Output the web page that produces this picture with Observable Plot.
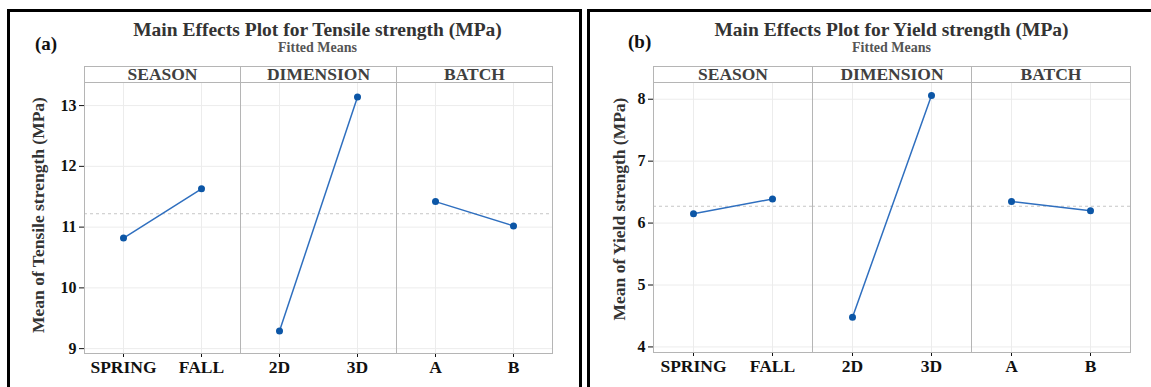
<!DOCTYPE html>
<html>
<head>
<meta charset="utf-8">
<script src="https://cdn.jsdelivr.net/npm/d3@7"></script>
<script src="https://cdn.jsdelivr.net/npm/@observablehq/plot@0.6"></script>
<style>
  body { margin:0; background:#fff; width:1151px; height:387px; overflow:hidden; position:relative;
         font-family:"Liberation Serif","Times New Roman",serif; }
  .box { position:absolute; border:3px solid #000; box-sizing:border-box; top:9px; height:420px; }
  .abs { position:absolute; white-space:nowrap; font-weight:bold; line-height:1; }
  .title { font-size:19.5px; color:#333; transform:translateX(-50%); }
  .sub { font-size:14px; color:#555; transform:translateX(-50%); }
  .tag { font-size:19px; color:#111; }
  .ylab { font-size:17.5px; color:#333; text-align:center; line-height:18px; transform:rotate(-90deg); }
  .chart { position:absolute; top:0; }
  .chart g[aria-label$="-axis tick"] { stroke:#999; }
  .chart g[aria-label="y-axis tick label"] { fill:#111; }
</style>
</head>
<body>
<div class="box" style="left:7px;width:575px;"></div>
<div class="box" style="left:587px;width:600px;"></div>

<div class="abs tag" style="left:35px;top:34px;">(a)</div>
<div class="abs title" style="left:317.5px;top:20px;">Main Effects Plot for Tensile strength (MPa)</div>
<div class="abs sub" style="left:317.5px;top:41px;">Fitted Means</div>
<div class="abs ylab" style="left:-100px;top:206px;width:276px;">Mean of Tensile strength (MPa)</div>

<div class="abs tag" style="left:628px;top:32px;">(b)</div>
<div class="abs title" style="left:891.5px;top:20px;">Main Effects Plot for Yield strength (MPa)</div>
<div class="abs sub" style="left:891.5px;top:41px;">Fitted Means</div>
<div class="abs ylab" style="left:481px;top:200px;width:276px;">Mean of Yield strength (MPa)</div>

<div id="left" class="chart" style="left:0px;width:576px;"></div>
<div id="right" class="chart" style="left:590px;width:561px;"></div>

<script>
// ---- data ----
const factors = ["SEASON", "DIMENSION", "BATCH"];
const levelNames = ["SPRING", "FALL", "2D", "3D", "A", "B"];
const levelFactor = ["SEASON", "SEASON", "DIMENSION", "DIMENSION", "BATCH", "BATCH"];
const levelIndex = [0, 1, 0, 1, 0, 1];
const tensileMeans = [10.82, 11.63, 9.29, 13.14, 11.42, 11.02];
const yieldMeans = [6.15, 6.39, 4.48, 8.06, 6.35, 6.20];
const tensileTicks = [9, 10, 11, 12, 13];
const yieldTicks = [4, 5, 6, 7, 8];
const tensileDomain = [8.92, 13.38];
const yieldDomain = [3.91, 8.27];

function draw(target, means, ticks, domain, dims) {
  const rows = levelNames.map((level, i) => ({level, factor: levelFactor[i], idx: levelIndex[i], mean: means[i]}));
  const grand = d3.mean(factors, f => d3.mean(rows.filter(r => r.factor === f), r => r.mean));
  const plotH = dims.height - dims.marginTop - dims.marginBottom;
  const chart = Plot.plot({
    ...dims,
    style: {fontFamily: '"Liberation Serif","Times New Roman",serif', fontSize: "16px", fontWeight: "bold",
            background: "transparent", color: "#111", overflow: "visible"},
    fx: {domain: factors, padding: 0, axis: null, label: null},
    x: {type: "point", domain: [0, 1], padding: 0.5, tickSize: 4, tickFormat: () => "", label: null},
    y: {domain, ticks, tickSize: 5, tickPadding: 3, label: null, tickFormat: d3.format("d")},
    marks: [
      Plot.frame({fill: "white", stroke: "#b5b5b5", insetTop: -16, insetBottom: plotH}),
      Plot.ruleY(ticks, {stroke: "#ececec"}),
      Plot.ruleX(rows, {x: "idx", fx: "factor", stroke: "#ececec"}),
      Plot.ruleY([grand], {stroke: "#c6c6c6", strokeDasharray: "3,3"}),
      Plot.frame({stroke: "#b5b5b5"}),
      Plot.line(rows, {x: "idx", y: "mean", fx: "factor", z: "factor", stroke: "#2f6fbf", strokeWidth: 1.5}),
      Plot.dot(rows, {x: "idx", y: "mean", fx: "factor", r: 3.5, fill: "#0c56a6"}),
      Plot.text(rows, {x: "idx", fx: "factor", text: "level", frameAnchor: "bottom", dy: 14,
                       lineAnchor: "middle", fontSize: 17.5, fill: "#111"}),
      Plot.text(factors, {fx: d => d, text: d => d, frameAnchor: "top", dy: -2.5, lineAnchor: "bottom",
                          fontSize: 17.5, fill: "#404040"})
    ]
  });
  document.getElementById(target).appendChild(chart);
}

draw("left", tensileMeans, tensileTicks, tensileDomain,
     {width: 576, height: 387, marginLeft: 83, marginRight: 24, marginTop: 82, marginBottom: 34});
draw("right", yieldMeans, yieldTicks, yieldDomain,
     {width: 561, height: 387, marginLeft: 63, marginRight: 21, marginTop: 82, marginBottom: 35});
</script>
</body>
</html>
